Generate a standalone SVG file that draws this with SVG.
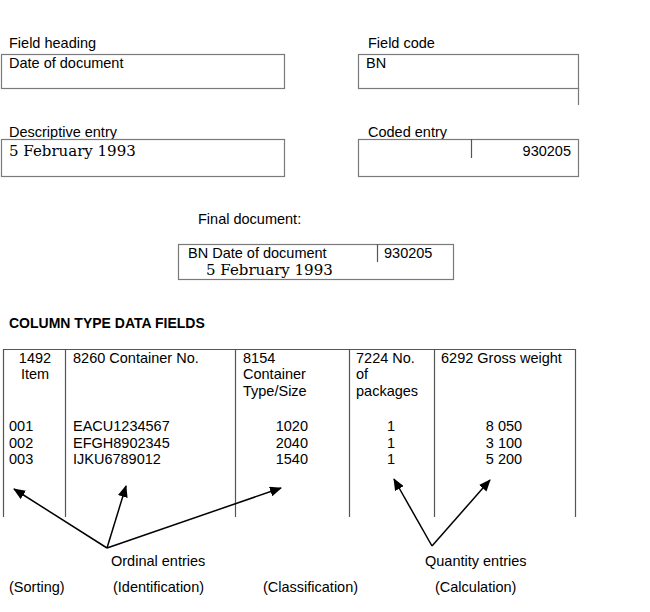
<svg xmlns="http://www.w3.org/2000/svg" width="650" height="612" viewBox="0 0 650 612">
<defs>
<style>
text{font-family:"Liberation Sans",Arial,sans-serif;font-size:14.5px;fill:#000}
.serif{font-family:"DejaVu Serif","Liberation Serif",serif;font-size:15px}
.b{font-weight:bold;font-size:14px}
.box{fill:none;stroke:#7a7a7a;stroke-width:1.2}
.ln{stroke:#555;stroke-width:1.2;fill:none}
.arr{stroke:#000;stroke-width:1.5;fill:none;marker-end:url(#ah)}
.m{text-anchor:middle}
.e{text-anchor:end}
</style>
<marker id="ah" markerUnits="userSpaceOnUse" markerWidth="12" markerHeight="10" refX="11" refY="5" orient="auto">
<path d="M0,0 L12,5 L0,10 Z" fill="#000"/>
</marker>
</defs>
<rect width="650" height="612" fill="#fff"/>

<g id="field-heading">
<text x="9" y="48">Field heading</text>
<rect class="box" x="1.5" y="54.5" width="283" height="34"/>
<text x="9" y="68">Date of document</text>
</g>

<g id="field-code">
<text x="368" y="48">Field code</text>
<rect class="box" x="358.5" y="54.5" width="220" height="34"/>
<line class="box" x1="578.5" y1="88" x2="578.5" y2="105"/>
<text x="366" y="68">BN</text>
</g>

<g id="descriptive-entry">
<text x="9" y="137">Descriptive entry</text>
<rect class="box" x="1.5" y="139.5" width="283" height="37"/>
<text class="serif" x="9" y="156">5 February 1993</text>
</g>

<g id="coded-entry">
<text x="368" y="137">Coded entry</text>
<rect class="box" x="358.5" y="139.5" width="220" height="37"/>
<line class="ln" x1="471.5" y1="139" x2="471.5" y2="158"/>
<text class="e" x="571" y="156">930205</text>
</g>

<g id="final-document">
<text x="198" y="224">Final document:</text>
<rect class="box" x="178.5" y="244.5" width="275" height="35"/>
<line class="ln" x1="377.5" y1="244" x2="377.5" y2="262"/>
<text x="188" y="258">BN Date of document</text>
<text x="384" y="258">930205</text>
<text class="serif" x="206" y="275">5 February 1993</text>
</g>

<g id="column-table">
<text class="b" x="9" y="328">COLUMN TYPE DATA FIELDS</text>
<line class="ln" x1="3" y1="349.5" x2="575.5" y2="349.5"/>
<line class="ln" x1="3.5" y1="349" x2="3.5" y2="517"/>
<line class="ln" x1="65.5" y1="349" x2="65.5" y2="517"/>
<line class="ln" x1="235.5" y1="349" x2="235.5" y2="517"/>
<line class="ln" x1="349.5" y1="349" x2="349.5" y2="517"/>
<line class="ln" x1="434.5" y1="349" x2="434.5" y2="517"/>
<line class="ln" x1="575.5" y1="349" x2="575.5" y2="517"/>

<text class="m" x="35" y="363">1492</text>
<text class="m" x="35" y="379">Item</text>
<text x="73" y="363">8260 Container No.</text>
<text x="243" y="363">8154</text>
<text x="243" y="379">Container</text>
<text x="243" y="396">Type/Size</text>
<text x="356" y="363">7224 No.</text>
<text x="356" y="379">of</text>
<text x="356" y="396">packages</text>
<text x="441" y="363">6292 Gross weight</text>

<text x="9" y="431">001</text>
<text x="9" y="448">002</text>
<text x="9" y="464">003</text>
<text x="73" y="431">EACU1234567</text>
<text x="73" y="448">EFGH8902345</text>
<text x="73" y="464">IJKU6789012</text>
<text class="e" x="308" y="431">1020</text>
<text class="e" x="308" y="448">2040</text>
<text class="e" x="308" y="464">1540</text>
<text class="m" x="391" y="431">1</text>
<text class="m" x="391" y="448">1</text>
<text class="m" x="391" y="464">1</text>
<text class="m" x="504" y="431">8 050</text>
<text class="m" x="504" y="448">3 100</text>
<text class="m" x="504" y="464">5 200</text>
</g>

<g id="connectors">
<line class="arr" x1="107" y1="548" x2="14" y2="489"/>
<line class="arr" x1="107" y1="548" x2="126" y2="486"/>
<line class="arr" x1="107" y1="548" x2="281" y2="488"/>
<line class="arr" x1="432" y1="546" x2="394" y2="479"/>
<line class="arr" x1="432" y1="546" x2="490" y2="480"/>
</g>

<g id="labels">
<text x="111" y="566">Ordinal entries</text>
<text x="425" y="566">Quantity entries</text>
<text x="9" y="592">(Sorting)</text>
<text x="113" y="592">(Identification)</text>
<text x="263" y="592">(Classification)</text>
<text x="435" y="592">(Calculation)</text>
</g>
</svg>
